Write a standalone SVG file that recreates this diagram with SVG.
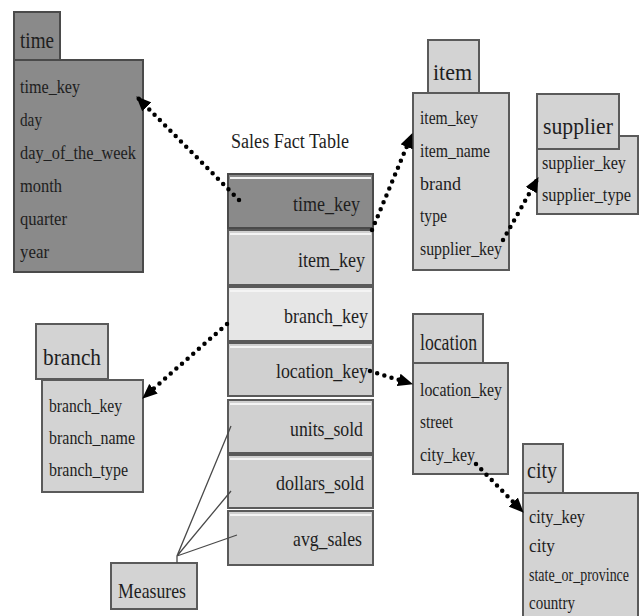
<svg xmlns="http://www.w3.org/2000/svg" width="644" height="616" viewBox="0 0 644 616" font-family="'Liberation Serif', 'DejaVu Serif', serif">
  <style>
    text { fill: #1e1e1e; }
    .box { fill: #d3d3d3; stroke: #5a5a5a; stroke-width: 2; }
    .dark { fill: #8a8a8a; stroke: #4a4a4a; stroke-width: 2; }
    .row { fill: #d0d0d0; stroke: #5a5a5a; stroke-width: 2; }
    .hi { stroke: #f4f4f4; stroke-width: 2; }
    .hd { font-size: 23px; }
    .fld { font-size: 19px; }
    .fact { font-size: 21px; text-anchor: end; }
    .dots { fill: none; stroke: #000; stroke-width: 4.5; stroke-linecap: round; stroke-dasharray: 0 7.5; }
    .thin { fill: none; stroke: #4a4a4a; stroke-width: 1.3; }
  </style>
  <defs>
    <marker id="head" viewBox="0 0 14 12" refX="13" refY="6" markerWidth="15" markerHeight="13" markerUnits="userSpaceOnUse" orient="auto">
      <path d="M0,0 L14,6 L0,12 Z" fill="#000"/>
    </marker>
  </defs>

  <rect width="644" height="616" fill="#ffffff"/>

  <!-- time dimension -->
  <g id="time">
    <rect class="dark" x="14" y="60" width="129" height="212"/>
    <rect class="dark" x="14" y="12" width="46" height="48"/>
    <text class="hd" x="20" y="48" textLength="34" lengthAdjust="spacingAndGlyphs">time</text>
    <text class="fld" x="20" y="93" textLength="60" lengthAdjust="spacingAndGlyphs">time_key</text>
    <text class="fld" x="20" y="126" textLength="22" lengthAdjust="spacingAndGlyphs">day</text>
    <text class="fld" x="20" y="159" textLength="116" lengthAdjust="spacingAndGlyphs">day_of_the_week</text>
    <text class="fld" x="20" y="192" textLength="42" lengthAdjust="spacingAndGlyphs">month</text>
    <text class="fld" x="20" y="225" textLength="47" lengthAdjust="spacingAndGlyphs">quarter</text>
    <text class="fld" x="20" y="258" textLength="29" lengthAdjust="spacingAndGlyphs">year</text>
  </g>

  <!-- fact table -->
  <g id="sales_fact">
    <text x="231" y="148" font-size="20" textLength="118" lengthAdjust="spacingAndGlyphs">Sales Fact Table</text>
    <rect class="dark" x="228" y="174" width="145" height="54"/>
    <line class="hi" x1="230" y1="178" x2="371" y2="178"/>
    <text class="fact" x="360" y="211" textLength="67" lengthAdjust="spacingAndGlyphs">time_key</text>

    <rect class="row" x="228" y="230" width="145" height="55"/>
    <line class="hi" x1="230" y1="234" x2="371" y2="234"/>
    <text class="fact" x="365" y="267" textLength="67" lengthAdjust="spacingAndGlyphs">item_key</text>

    <rect class="row" x="228" y="287" width="145" height="54" style="fill:#e6e6e6"/>
    <line class="hi" x1="230" y1="291" x2="371" y2="291"/>
    <text class="fact" x="368" y="323" textLength="84" lengthAdjust="spacingAndGlyphs">branch_key</text>

    <rect class="row" x="228" y="343" width="145" height="53"/>
    <line class="hi" x1="230" y1="347" x2="371" y2="347"/>
    <text class="fact" x="368" y="378" textLength="92" lengthAdjust="spacingAndGlyphs">location_key</text>

    <rect class="row" x="228" y="400" width="145" height="53"/>
    <line class="hi" x1="230" y1="404" x2="371" y2="404"/>
    <text class="fact" x="363" y="436" textLength="73" lengthAdjust="spacingAndGlyphs">units_sold</text>

    <rect class="row" x="228" y="455" width="145" height="53"/>
    <line class="hi" x1="230" y1="459" x2="371" y2="459"/>
    <text class="fact" x="364" y="490" textLength="88" lengthAdjust="spacingAndGlyphs">dollars_sold</text>

    <rect class="row" x="228" y="511" width="145" height="54"/>
    <line class="hi" x1="230" y1="515" x2="371" y2="515"/>
    <text class="fact" x="362" y="546" textLength="69" lengthAdjust="spacingAndGlyphs">avg_sales</text>
  </g>

  <!-- item dimension -->
  <g id="item">
    <rect class="box" x="413" y="93" width="96" height="177"/>
    <rect class="box" x="428" y="40" width="51" height="53"/>
    <text class="hd" x="433" y="80" textLength="39" lengthAdjust="spacingAndGlyphs">item</text>
    <text class="fld" x="420" y="124" textLength="58" lengthAdjust="spacingAndGlyphs">item_key</text>
    <text class="fld" x="420" y="157" textLength="70" lengthAdjust="spacingAndGlyphs">item_name</text>
    <text class="fld" x="420" y="190" textLength="41" lengthAdjust="spacingAndGlyphs">brand</text>
    <text class="fld" x="420" y="222" textLength="27" lengthAdjust="spacingAndGlyphs">type</text>
    <text class="fld" x="420" y="255" textLength="82" lengthAdjust="spacingAndGlyphs">supplier_key</text>
  </g>

  <!-- supplier dimension -->
  <g id="supplier">
    <rect class="box" x="537" y="136" width="101" height="78"/>
    <rect class="box" x="537" y="94" width="82" height="55"/>
    <text class="hd" x="543" y="134" textLength="70" lengthAdjust="spacingAndGlyphs">supplier</text>
    <text class="fld" x="542" y="169" font-size="17" textLength="84" lengthAdjust="spacingAndGlyphs">supplier_key</text>
    <text class="fld" x="542" y="201" font-size="17" textLength="89" lengthAdjust="spacingAndGlyphs">supplier_type</text>
  </g>

  <!-- branch dimension -->
  <g id="branch">
    <rect class="box" x="42" y="380" width="101" height="112"/>
    <rect class="box" x="36" y="324" width="72" height="55"/>
    <text class="hd" x="43" y="365" textLength="58" lengthAdjust="spacingAndGlyphs">branch</text>
    <text class="fld" x="49" y="412" textLength="73" lengthAdjust="spacingAndGlyphs">branch_key</text>
    <text class="fld" x="49" y="444" textLength="86" lengthAdjust="spacingAndGlyphs">branch_name</text>
    <text class="fld" x="49" y="476" textLength="79" lengthAdjust="spacingAndGlyphs">branch_type</text>
  </g>

  <!-- location dimension -->
  <g id="location">
    <rect class="box" x="413" y="363" width="95" height="111"/>
    <rect class="box" x="413" y="314" width="70" height="49"/>
    <text class="hd" x="420" y="350" textLength="57" lengthAdjust="spacingAndGlyphs">location</text>
    <text class="fld" x="420" y="396" textLength="82" lengthAdjust="spacingAndGlyphs">location_key</text>
    <text class="fld" x="420" y="428" textLength="33" lengthAdjust="spacingAndGlyphs">street</text>
    <text class="fld" x="420" y="461" textLength="55" lengthAdjust="spacingAndGlyphs">city_key</text>
  </g>

  <!-- city dimension -->
  <g id="city">
    <rect class="box" x="523" y="493" width="115" height="130"/>
    <rect class="box" x="523" y="444" width="40" height="49"/>
    <text class="hd" x="527" y="478" textLength="30" lengthAdjust="spacingAndGlyphs">city</text>
    <text class="fld" x="529" y="523" font-size="17" textLength="56" lengthAdjust="spacingAndGlyphs">city_key</text>
    <text class="fld" x="529" y="552" font-size="17" textLength="26" lengthAdjust="spacingAndGlyphs">city</text>
    <text class="fld" x="529" y="581" font-size="17" textLength="100" lengthAdjust="spacingAndGlyphs">state_or_province</text>
    <text class="fld" x="529" y="609" font-size="17" textLength="46" lengthAdjust="spacingAndGlyphs">country</text>
  </g>

  <!-- measures label -->
  <g id="measures">
    <rect class="box" x="111" y="563" width="86" height="46"/>
    <text x="118" y="598" font-size="21" textLength="68" lengthAdjust="spacingAndGlyphs">Measures</text>
  </g>

  <!-- connectors -->
  <g id="connectors">
    <line class="dots" x1="239" y1="200" x2="137" y2="97" marker-end="url(#head)"/>
    <line class="dots" x1="372" y1="230" x2="412" y2="134" marker-end="url(#head)"/>
    <line class="dots" x1="503" y1="240" x2="538" y2="178" marker-end="url(#head)"/>
    <line class="dots" x1="227" y1="324" x2="143" y2="398" marker-end="url(#head)"/>
    <line class="dots" x1="370" y1="371" x2="412" y2="384" marker-end="url(#head)"/>
    <line class="dots" x1="476" y1="464" x2="523" y2="512" marker-end="url(#head)"/>
    <path class="thin" d="M177,563 L177,556 L231,426 M177,556 L231,491 M177,556 L237,535"/>
  </g>
</svg>
